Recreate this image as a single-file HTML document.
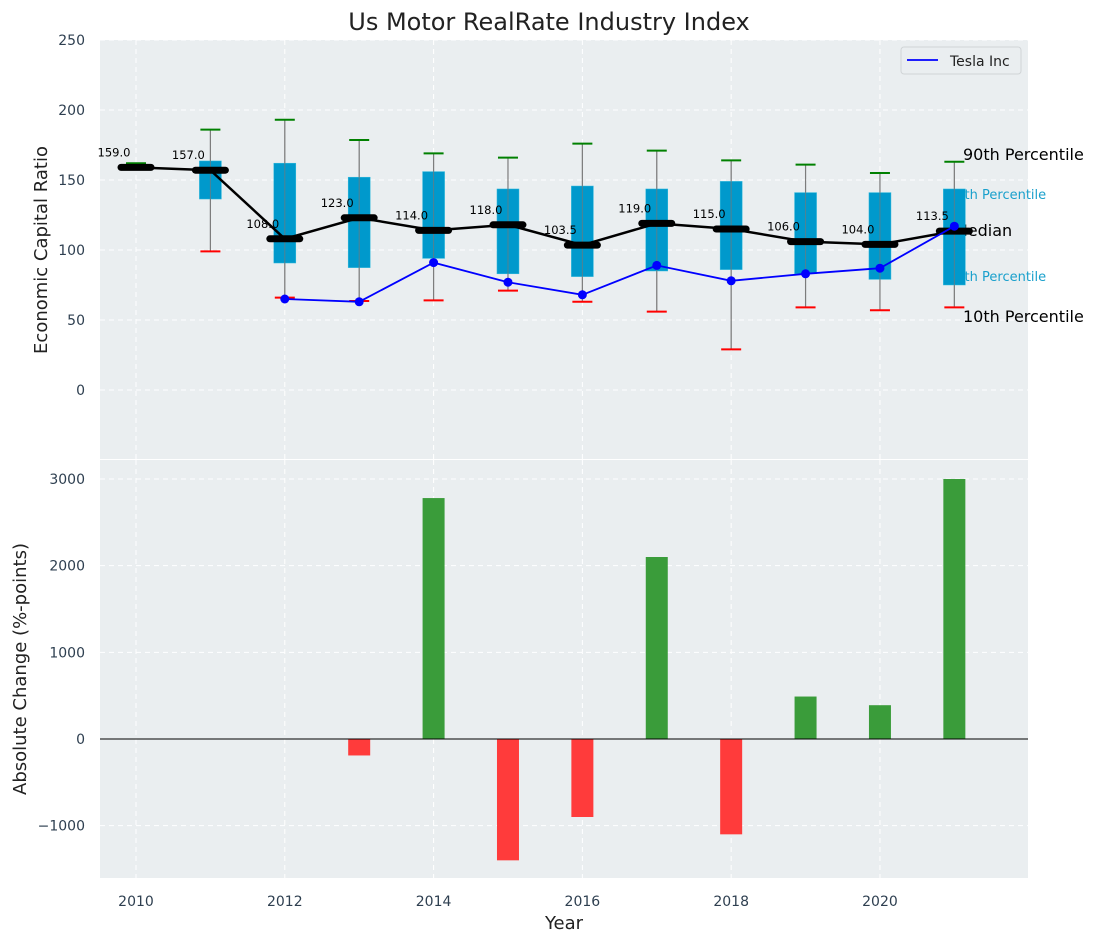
<!DOCTYPE html>
<html><head><meta charset="utf-8"><style>
body{margin:0;background:#fff;}
svg{display:block;font-family:"DejaVu Sans","Liberation Sans",sans-serif;}
</style></head><body>
<svg id="c" width="1098" height="942" viewBox="0 0 1098 942"></svg>
<script>
const years=[2010,2011,2012,2013,2014,2015,2016,2017,2018,2019,2020,2021];
const medians=[159,157,108,123,114,118,103.5,119,115,106,104,113.5];
const q75=[159,163.6,162,152,156,143.6,145.7,143.6,149,141,141,143.6];
const q25=[159,136.4,90.7,87.4,94,83,81,85,86,83,79,75];
const p90=[162,186,193,178.6,169,166,176,171,164,161,155,163];
const p10=[159,99,66,63.6,64,71,63,56,29,59,57,59];
const teslaYears=[2012,2013,2014,2015,2016,2017,2018,2019,2020,2021];
const tesla=[65,63,91,77,68,89,78,83,87,117];
const changes=[0,0,0,-190,2780,-1400,-900,2100,-1100,490,390,3000];
const yTicksTop=[0,50,100,150,200,250];
const yTicksBot=[-1000,0,1000,2000,3000];
const xTicks=[2010,2012,2014,2016,2018,2020];

const NS="http://www.w3.org/2000/svg";
const svg=document.getElementById('c');
function el(tag,attrs,parent,txt){const e=document.createElementNS(NS,tag);for(const k in attrs)e.setAttribute(k,attrs[k]);if(txt!==undefined)e.textContent=txt;(parent||svg).appendChild(e);return e;}
const L=100,R=1028,T1=40,B1=459,T2=460,B2=878;
const x=v=>L+(v-2009.516)*(R-L)/(2021.99-2009.516);
const yT=v=>390-v*1.4;
const yB=v=>739-v*(260/3000);
const tc="#2e3f50";

let g=el('g',{});
let r=el('rect',{x:L,y:T1,width:R-L,height:B1-T1,fill:"#eaeef0"},g);

for(const t of yTicksTop){el('line',{x1:L,x2:R,y1:yT(t),y2:yT(t),stroke:"#fff","stroke-dasharray":"5,4","stroke-width":1},g);
 const tx=el('text',{x:L-15,y:yT(t)+5,"text-anchor":"end","font-size":14,fill:tc},g,String(t));}
for(const t of xTicks){el('line',{x1:x(t),x2:x(t),y1:T1,y2:B1,stroke:"#fff","stroke-dasharray":"5,4"},g);}
const rl=[["90th Percentile",963,160,16,"#000"],["75th Percentile",948,199,13,"#1aa0cc"],["Median",954,236,16,"#000"],["25th Percentile",948,281,13,"#1aa0cc"],["10th Percentile",963,322,16,"#000"]];
for(const a of rl){const t=el('text',{x:a[1],y:a[2],"font-size":a[3],fill:a[4]},g,a[0]);}
years.forEach((yr,i)=>{
 const cx=x(yr);
 const w=el('line',{x1:cx,x2:cx,y1:yT(p90[i]),y2:yT(p10[i]),stroke:"#888","stroke-width":1.2},g);
 if(q75[i]>q25[i]){const b=el('rect',{x:cx-11,y:yT(q75[i]),width:22,height:yT(q25[i])-yT(q75[i]),fill:"#0099cc",stroke:"#33bbdd","stroke-width":0.5},g);}
 el('line',{x1:cx,x2:cx,y1:yT(p90[i]),y2:yT(p10[i]),stroke:"#777","stroke-width":1,opacity:0.7},g);
 const c1=el('line',{x1:cx-10,x2:cx+10,y1:yT(p90[i]),y2:yT(p90[i]),stroke:"green","stroke-width":2},g);
 const c2=el('line',{x1:cx-10,x2:cx+10,y1:yT(p10[i]),y2:yT(p10[i]),stroke:"red","stroke-width":2},g);
});
let pts=years.map((yr,i)=>x(yr)+","+yT(medians[i])).join(" ");
let ml=el('polyline',{points:pts,fill:"none",stroke:"#000","stroke-width":2.5},g);
years.forEach((yr,i)=>{const cx=x(yr);
 const m=el('line',{x1:cx-15,x2:cx+15,y1:yT(medians[i]),y2:yT(medians[i]),stroke:"#000","stroke-width":7,"stroke-linecap":"round"},g);
 const t=el('text',{x:cx-22,y:yT(medians[i])-11,"text-anchor":"middle","font-size":11.5,fill:"#000"},g,medians[i].toFixed(1));
});
let tp=teslaYears.map((yr,i)=>x(yr)+","+yT(tesla[i])).join(" ");
let tl=el('polyline',{points:tp,fill:"none",stroke:"#0000ff","stroke-width":1.8},g);
teslaYears.forEach((yr,i)=>{const c=el('circle',{cx:x(yr),cy:yT(tesla[i]),r:4.5,fill:"#0000ff"},g);});
let lg=el('g',{},g);
el('rect',{x:901,y:47,width:120,height:27,rx:3,fill:"#eaeef0",stroke:"#d0d4d6"},lg);
el('line',{x1:907,x2:938,y1:60,y2:60,stroke:"#0000ff","stroke-width":1.8},lg);
el('text',{x:950,y:66,"font-size":14,fill:"#222"},lg,"Tesla Inc");
let tt=el('text',{x:549,y:30,"text-anchor":"middle","font-size":24,fill:"#222"},svg,"Us Motor RealRate Industry Index");
let yl=el('text',{transform:"translate(47,250) rotate(-90)","text-anchor":"middle","font-size":18,fill:"#222"},svg,"Economic Capital Ratio");

let g2=el('g',{});
let r2=el('rect',{x:L,y:T2,width:R-L,height:B2-T2,fill:"#eaeef0"},g2);
for(const t of yTicksBot){el('line',{x1:L,x2:R,y1:yB(t),y2:yB(t),stroke:"#fff","stroke-dasharray":"5,4"},g2);
 const tx=el('text',{x:L-15,y:yB(t)+5,"text-anchor":"end","font-size":14,fill:tc},g2,t<0?"\u2212"+Math.abs(t):String(t));}
for(const t of xTicks){el('line',{x1:x(t),x2:x(t),y1:T2,y2:B2,stroke:"#fff","stroke-dasharray":"5,4"},g2);
 const tx=el('text',{x:x(t),y:B2+28,"text-anchor":"middle","font-size":14,fill:tc},g2,String(t));}
years.forEach((yr,i)=>{const v=changes[i];if(v===0)return;
 const b=el('rect',{x:x(yr)-11,y:Math.min(yB(v),yB(0)),width:22,height:Math.abs(yB(v)-yB(0)),fill:v>0?"#3a9c3a":"#ff3b3b"},g2);});
el('line',{x1:L,x2:R,y1:yB(0),y2:yB(0),stroke:"#000","stroke-width":1},g2);
let yl2=el('text',{transform:"translate(26,669) rotate(-90)","text-anchor":"middle","font-size":18,fill:"#222"},svg,"Absolute Change (%-points)");
let xl=el('text',{x:564,y:929,"text-anchor":"middle","font-size":18,fill:"#222"},svg,"Year");
</script>
</body></html>
